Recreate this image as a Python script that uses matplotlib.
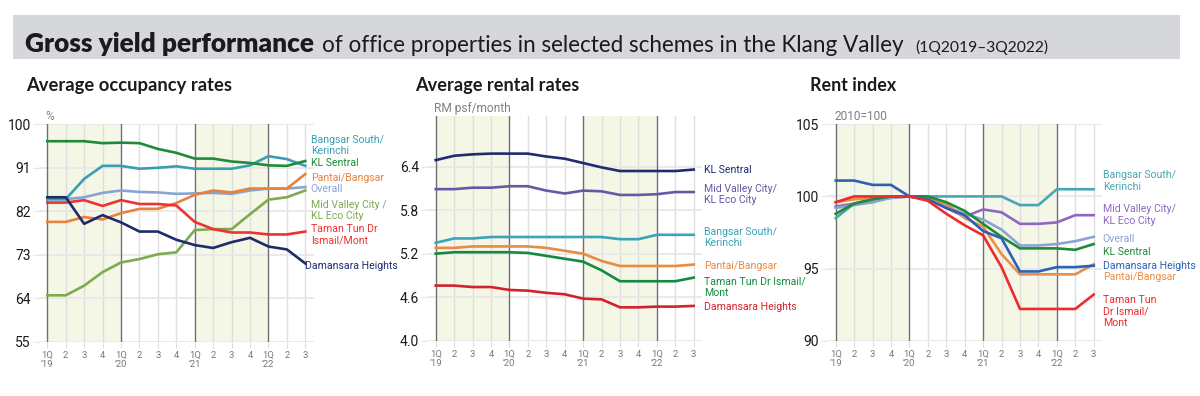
import matplotlib
matplotlib.use("Agg")
import matplotlib.pyplot as plt
from matplotlib import font_manager
from matplotlib.patches import Rectangle

# ---------------- data ----------------
quarters = ["1Q\n’19", "2", "3", "4", "1Q\n’20", "2", "3", "4",
            "1Q\n’21", "2", "3", "4", "1Q\n’22", "2", "3"]

# Average occupancy rates (%)
occ_kl_sentral = [96.5, 96.5, 96.5, 96.1, 96.2, 96.1, 94.9, 94.1, 92.9, 92.9, 92.3, 92.0, 91.5, 91.4, 92.4]
occ_bangsar_south = [84.5, 84.5, 88.7, 91.4, 91.4, 90.8, 91.0, 91.3, 90.8, 90.8, 90.8, 91.5, 93.4, 92.8, 91.4]
occ_overall = [84.5, 84.5, 84.9, 85.8, 86.3, 86.0, 85.9, 85.6, 85.7, 85.8, 85.6, 86.3, 86.7, 86.7, 87.0]
occ_pantai = [79.8, 79.8, 80.8, 80.3, 81.6, 82.5, 82.5, 83.7, 85.4, 86.3, 85.9, 86.7, 86.7, 86.7, 89.7]
occ_ttdi = [83.8, 83.8, 84.3, 83.1, 84.3, 83.5, 83.5, 83.2, 79.8, 78.3, 77.6, 77.6, 77.2, 77.2, 77.8]
occ_damansara = [84.9, 84.9, 79.4, 81.2, 79.7, 77.8, 77.8, 76.1, 75.0, 74.4, 75.6, 76.5, 74.7, 74.1, 71.2]
occ_mid_valley = [64.6, 64.6, 66.6, 69.4, 71.4, 72.1, 73.1, 73.5, 78.1, 78.3, 78.3, 81.4, 84.4, 84.9, 86.3]

# Average rental rates (RM psf / month)
rent_kl_sentral = [6.49, 6.55, 6.57, 6.58, 6.58, 6.58, 6.54, 6.51, 6.45, 6.39, 6.34, 6.34, 6.34, 6.34, 6.36]
rent_mid_valley = [6.09, 6.09, 6.11, 6.11, 6.13, 6.13, 6.07, 6.03, 6.07, 6.06, 6.01, 6.01, 6.02, 6.05, 6.05]
rent_bangsar_south = [5.35, 5.41, 5.41, 5.43, 5.43, 5.43, 5.43, 5.43, 5.43, 5.43, 5.40, 5.40, 5.46, 5.46, 5.46]
rent_pantai = [5.28, 5.28, 5.30, 5.30, 5.30, 5.30, 5.28, 5.24, 5.20, 5.10, 5.03, 5.03, 5.03, 5.03, 5.05]
rent_ttdi = [5.20, 5.22, 5.22, 5.22, 5.22, 5.21, 5.17, 5.13, 5.09, 4.97, 4.82, 4.82, 4.82, 4.82, 4.87]
rent_damansara = [4.76, 4.76, 4.74, 4.74, 4.70, 4.69, 4.66, 4.64, 4.58, 4.57, 4.46, 4.46, 4.47, 4.47, 4.48]

# Rent index (2010 = 100)
idx_bangsar_south = [98.5, 99.5, 99.6, 100.0, 100.0, 100.0, 100.0, 100.0, 100.0, 100.0, 99.4, 99.4, 100.5, 100.5, 100.5]
idx_mid_valley = [99.3, 99.5, 99.8, 99.9, 100.0, 99.8, 99.2, 98.6, 99.1, 98.9, 98.1, 98.1, 98.2, 98.7, 98.7]
idx_overall = [99.2, 99.4, 99.6, 99.9, 100.0, 99.9, 99.3, 98.8, 98.4, 97.7, 96.6, 96.6, 96.7, 96.9, 97.2]
idx_kl_sentral = [98.8, 99.5, 99.8, 100.0, 100.0, 100.0, 99.6, 99.0, 98.1, 97.2, 96.4, 96.4, 96.4, 96.3, 96.7]
idx_damansara = [101.1, 101.1, 100.8, 100.8, 100.0, 99.8, 99.2, 98.7, 97.6, 97.1, 94.8, 94.8, 95.1, 95.1, 95.2]
idx_pantai = [99.6, 99.8, 99.9, 100.0, 100.0, 99.8, 99.5, 98.5, 97.9, 96.0, 94.6, 94.6, 94.6, 94.6, 95.3]
idx_ttdi = [99.6, 100.0, 100.0, 100.0, 100.0, 99.7, 98.8, 98.0, 97.3, 95.1, 92.2, 92.2, 92.2, 92.2, 93.2]

# ---------------- fonts ----------------
available = {f.name for f in font_manager.fontManager.ttflist}
def pick(cands):
    for c in cands:
        if c in available:
            return c
    return "DejaVu Sans"

NARROW = pick(["Liberation Sans Narrow", "Roboto", "Lato", "DejaVu Sans"])
TITLE = pick(["Lato", "Roboto", "Open Sans", "DejaVu Sans"])

W, H = 1200, 396
fig = plt.figure(figsize=(W / 100, H / 100), dpi=100)
fig.patch.set_facecolor("white")

def fx(x):
    return x / W

def fy(y):
    return 1 - y / H

# banner
fig.patches.append(Rectangle((fx(13), fy(59)), fx(1180) - fx(13), fy(15) - fy(59),
                             transform=fig.transFigure, facecolor="#d5d7da",
                             edgecolor="none", zorder=0))

renderer = fig.canvas.get_renderer()

def fit_text(x, y, s, width_px, **kw):
    t = fig.text(fx(x), fy(y), s, fontsize=10, va="baseline", ha="left", **kw)
    w = t.get_window_extent(renderer).width
    t.set_fontsize(10 * width_px / w)
    return t

fit_text(25, 52, "Gross yield performance", 290, fontweight="heavy", family=TITLE, color="#1b1b1b")
fit_text(322, 52, "of office properties in selected schemes in the Klang Valley", 583, family=TITLE, color="#1b1b1b")
fit_text(915, 52, "(1Q2019–3Q2022)", 133, family=TITLE, color="#1b1b1b")

fit_text(26, 91, "Average occupancy rates", 206, fontweight="bold", family=TITLE, color="#1b1b1b")
fit_text(415, 91, "Average rental rates", 164, fontweight="bold", family=TITLE, color="#1b1b1b")
fit_text(810, 91, "Rent index", 86, fontweight="bold", family=TITLE, color="#1b1b1b")

SHADE = "#f4f6e6"
YEARLINE = "#707070"
QLINE = "#dedede"
HGRID = "#e8e8e8"
xs = list(range(len(quarters)))

def make_axes(left, top, bottom, ylim, yticks, yticklabels, unit):
    width = 274.6
    ax = fig.add_axes([fx(left), fy(bottom), width / W, (bottom - top) / H])
    ax.set_xlim(-0.45, 14.45)
    ax.set_ylim(*ylim)
    for s in ax.spines.values():
        s.set_visible(False)
    ax.axvspan(0, 4, color=SHADE, zorder=0, lw=0)
    ax.axvspan(8, 12, color=SHADE, zorder=0, lw=0)
    for x in xs:
        if x in (0, 4, 8, 12):
            ax.axvline(x, color=YEARLINE, lw=1.0, zorder=1)
        else:
            ax.axvline(x, color=QLINE, lw=1.0, zorder=0.5)
    for yv in yticks:
        ax.axhline(yv, color=HGRID, lw=1.3, zorder=0.6)
    ax.set_yticks(yticks)
    ax.set_yticklabels(yticklabels, family=NARROW, fontsize=10, color="#1b1b1b")
    ax.tick_params(axis="y", length=4, color=HGRID, pad=2)
    ax.set_xticks(xs)
    ax.set_xticklabels(quarters, family=NARROW, fontsize=6.8, color="#777777",
                       linespacing=1.0, va="top")
    ax.tick_params(axis="x", length=4, color=QLINE, pad=3)
    ax.text(0.025, 1.005, unit, transform=ax.transAxes, family=NARROW,
            fontsize=8.6, color="#808080", va="bottom", ha="left")
    return ax

LW = 1.9
LBL = 7.6

def label(ax, x, y, s, color):
    ax.text(x, y, s, color=color, family=NARROW, fontsize=LBL, va="center",
            ha="left", linespacing=1.15, clip_on=False)

# ---- panel 1: occupancy ----
ax1 = make_axes(39, 124.3, 341.7, (55, 100), [55, 64, 73, 82, 91, 100],
                ["55", "64", "73", "82", "91", "100"], "%")
c_mid = "#7dab4e"; c_ttdi = "#ee3131"; c_pan = "#e8823c"; c_ovr = "#8aa3d3"
c_bs = "#3a9db3"; c_kls = "#1f8a3a"; c_dam = "#1e2c6a"
ax1.plot(xs, occ_mid_valley, color=c_mid, lw=LW, zorder=3)
ax1.plot(xs, occ_overall, color=c_ovr, lw=LW, zorder=3)
ax1.plot(xs, occ_pantai, color=c_pan, lw=LW, zorder=3)
ax1.plot(xs, occ_ttdi, color=c_ttdi, lw=LW, zorder=3)
ax1.plot(xs, occ_bangsar_south, color=c_bs, lw=LW, zorder=3)
ax1.plot(xs, occ_kl_sentral, color=c_kls, lw=LW, zorder=3)
ax1.plot(xs, occ_damansara, color=c_dam, lw=LW, zorder=4)
label(ax1, 14.3, 95.6, "Bangsar South/\nKerinchi", c_bs)
label(ax1, 14.3, 91.9, "KL Sentral", c_kls)
label(ax1, 14.3, 88.8, "Pantai/Bangsar", c_pan)
label(ax1, 14.3, 86.6, "Overall", c_ovr)
label(ax1, 14.3, 82.1, "Mid Valley City /\nKL Eco City", c_mid)
label(ax1, 14.3, 77.1, "Taman Tun Dr\nIsmail/Mont", c_ttdi)
label(ax1, 13.97, 70.7, "Damansara Heights", c_dam)

# ---- panel 2: rental rates ----
ax2 = make_axes(427.4, 115.9, 340.7, (4.0, 7.1), [4.0, 4.6, 5.2, 5.8, 6.4],
                ["4.0", "4.6", "5.2", "5.8", "6.4"], "RM psf/month")
c2_kls = "#1f2c6e"; c2_mid = "#6a57a3"; c2_bs = "#3aa4b9"; c2_pan = "#e98a45"
c2_ttdi = "#138a3f"; c2_dam = "#d3222b"
ax2.plot(xs, rent_kl_sentral, color=c2_kls, lw=LW, zorder=3)
ax2.plot(xs, rent_mid_valley, color=c2_mid, lw=LW, zorder=3)
ax2.plot(xs, rent_bangsar_south, color=c2_bs, lw=LW, zorder=3)
ax2.plot(xs, rent_pantai, color=c2_pan, lw=LW, zorder=3)
ax2.plot(xs, rent_ttdi, color=c2_ttdi, lw=LW, zorder=3)
ax2.plot(xs, rent_damansara, color=c2_dam, lw=LW, zorder=3)
label(ax2, 14.58, 6.36, "KL Sentral", c2_kls)
label(ax2, 14.58, 6.02, "Mid Valley City/\nKL Eco City", c2_mid)
label(ax2, 14.58, 5.42, "Bangsar South/\nKerinchi", c2_bs)
label(ax2, 14.58, 5.03, "Pantai/Bangsar", c2_pan)
label(ax2, 14.58, 4.74, "Taman Tun Dr Ismail/\nMont", c2_ttdi)
label(ax2, 14.58, 4.46, "Damansara Heights", c2_dam)

# ---- panel 3: rent index ----
ax3 = make_axes(827.4, 124.3, 340.7, (90, 105), [90, 95, 100, 105],
                ["90", "95", "100", "105"], "2010=100")
c3_bs = "#4aa6b4"; c3_mid = "#8f66c2"; c3_ovr = "#8aa3d3"; c3_kls = "#1f8a3a"
c3_dam = "#2b62b5"; c3_pan = "#e88f4a"; c3_ttdi = "#ee2b2b"
ax3.plot(xs, idx_bangsar_south, color=c3_bs, lw=LW, zorder=3)
ax3.plot(xs, idx_mid_valley, color=c3_mid, lw=LW, zorder=3)
ax3.plot(xs, idx_overall, color=c3_ovr, lw=LW, zorder=3)
ax3.plot(xs, idx_pantai, color=c3_pan, lw=LW, zorder=3)
ax3.plot(xs, idx_kl_sentral, color=c3_kls, lw=LW, zorder=3)
ax3.plot(xs, idx_damansara, color=c3_dam, lw=LW, zorder=3)
ax3.plot(xs, idx_ttdi, color=c3_ttdi, lw=LW, zorder=3)
label(ax3, 14.49, 101.07, "Bangsar South/\nKerinchi", c3_bs)
label(ax3, 14.49, 98.71, "Mid Valley City/\nKL Eco City", c3_mid)
label(ax3, 14.49, 97.05, "Overall", c3_ovr)
label(ax3, 14.49, 96.15, "KL Sentral", c3_kls)
label(ax3, 14.49, 95.2, "Damansara Heights", c3_dam)
label(ax3, 14.49, 94.4, "Pantai/Bangsar", c3_pan)
label(ax3, 14.49, 92.03, "Taman Tun\nDr Ismail/\nMont", c3_ttdi)

fig.savefig("out.png", dpi=100, facecolor="white")
